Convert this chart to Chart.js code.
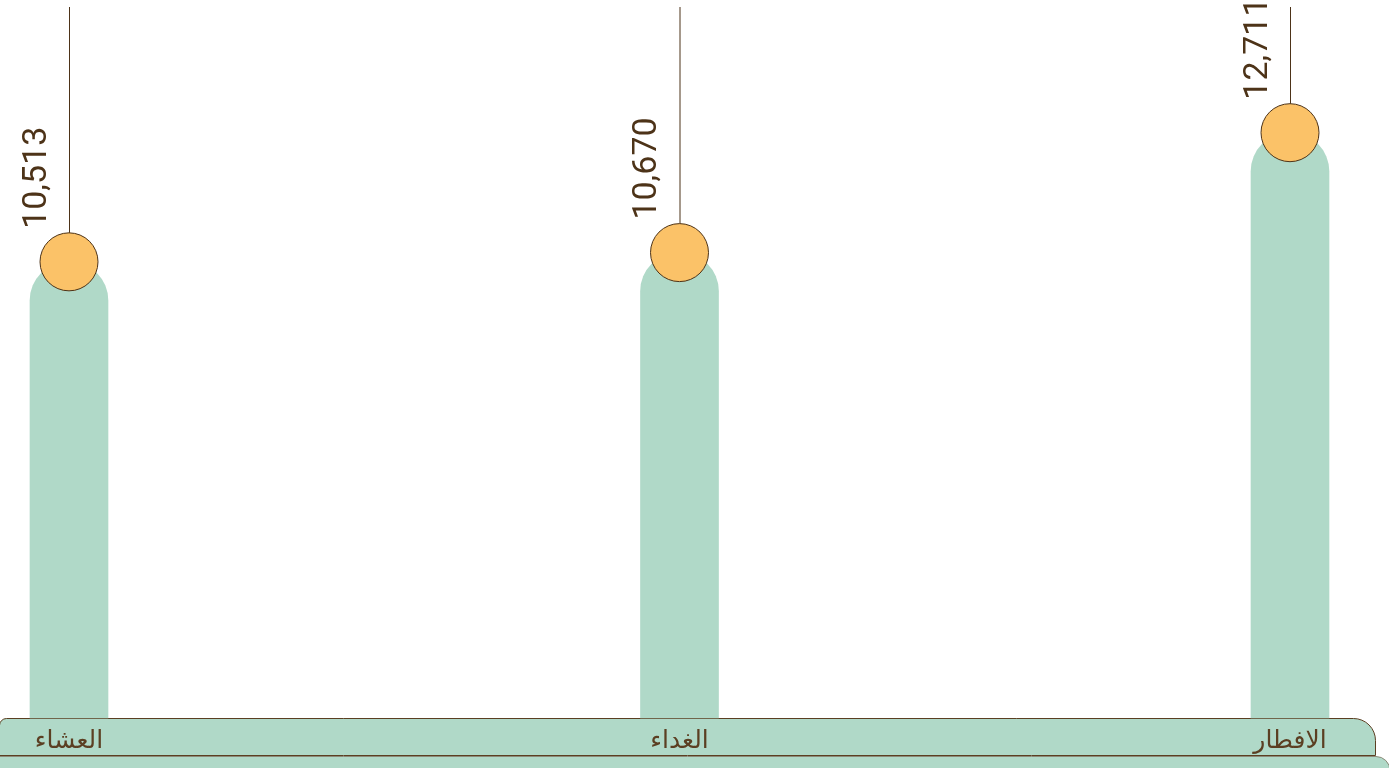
<!DOCTYPE html>
<html lang="ar">
<head>
  <meta charset="UTF-8" />
  <title>Meals</title>
  <script src="https://cdn.jsdelivr.net/npm/chart.js"></script>
  <style>
    html, body {
      margin: 0;
      padding: 0;
      background: #fff;
      overflow: hidden;
    }
    #wrap {
      width: 1389px;
      height: 768px;
    }
  </style>
</head>
<body>
  <div id="wrap"><canvas id="chart"></canvas></div>

  <script>
    // listed right-to-left, x axis is reversed
    const meals = ["الافطار", "الغداء", "العشاء"];
    const counts = [12711, 10670, 10513];
    const yMin = 2750;
    const yMax = 14850;

    const green = "#b0d9c8";
    const brown = "#4d3318";
    const orange = "#fbc268";

    // base band under the bars, drawn before the axis labels
    const basePlugin = {
      id: "base",
      beforeDraw(chart) {
        const ctx = chart.ctx;
        const top = chart.chartArea.bottom;
        const w = chart.width;
        ctx.save();
        // lower strip
        ctx.fillStyle = green;
        ctx.strokeStyle = "#8c8a78";
        ctx.lineWidth = 1;
        ctx.beginPath();
        ctx.roundRect(-1, top + 38.5, w + 2, 20, [0, 14, 0, 0]);
        ctx.fill();
        ctx.stroke();
        // main band
        ctx.strokeStyle = "#5b3f22";
        ctx.beginPath();
        ctx.roundRect(-0.5, top + 0.5, w - 13, 37, [7, 22, 0, 0]);
        ctx.fill();
        ctx.stroke();
        ctx.restore();
      }
    };

    // stems and rotated values above the circles
    const stemPlugin = {
      id: "stems",
      afterDatasetsDraw(chart) {
        const ctx = chart.ctx;
        const meta = chart.getDatasetMeta(0);
        const top = chart.chartArea.top;
        ctx.save();
        meta.data.forEach((pt, i) => {
          const r = pt.options.radius;
          ctx.strokeStyle = brown;
          ctx.lineWidth = 1;
          ctx.beginPath();
          ctx.moveTo(pt.x + 0.5, pt.y - r);
          ctx.lineTo(pt.x + 0.5, top);
          ctx.stroke();

          ctx.translate(pt.x - 32, pt.y - r - 4);
          ctx.rotate(-Math.PI / 2);
          ctx.fillStyle = brown;
          ctx.font = "34px Roboto";
          ctx.textAlign = "left";
          ctx.textBaseline = "middle";
          ctx.fillText(counts[i].toLocaleString("en-US"), 0, 0);
          ctx.setTransform(1, 0, 0, 1, 0, 0);
        });
        ctx.restore();
      }
    };

    new Chart(document.getElementById("chart"), {
      data: {
        labels: meals,
        datasets: [
          {
            type: "line",
            data: counts,
            showLine: false,
            pointRadius: 29,
            pointHoverRadius: 29,
            pointBackgroundColor: orange,
            pointBorderColor: brown,
            pointBorderWidth: 1,
            clip: false,
            order: 0
          },
          {
            type: "bar",
            data: counts,
            base: yMin,
            backgroundColor: green,
            barThickness: 78,
            borderRadius: { topLeft: 39, topRight: 39, bottomLeft: 0, bottomRight: 0 },
            borderSkipped: "bottom",
            clip: false,
            order: 1
          }
        ]
      },
      options: {
        responsive: true,
        maintainAspectRatio: false,
        animation: false,
        layout: {
          autoPadding: false,
          padding: { left: 69, right: 99, top: 7, bottom: 0 }
        },
        scales: {
          x: {
            reverse: true,
            offset: false,
            grid: { display: false },
            border: { display: false },
            ticks: {
              color: "#5b3f22",
              padding: 0,
              font: { family: "DejaVu Sans", size: 25 },
              maxRotation: 0
            },
            afterFit(scale) {
              scale.height = 50;
            }
          },
          y: {
            display: false,
            min: yMin,
            max: yMax
          }
        },
        plugins: {
          legend: { display: false },
          tooltip: { enabled: false }
        }
      },
      plugins: [basePlugin, stemPlugin]
    });
  </script>
</body>
</html>
